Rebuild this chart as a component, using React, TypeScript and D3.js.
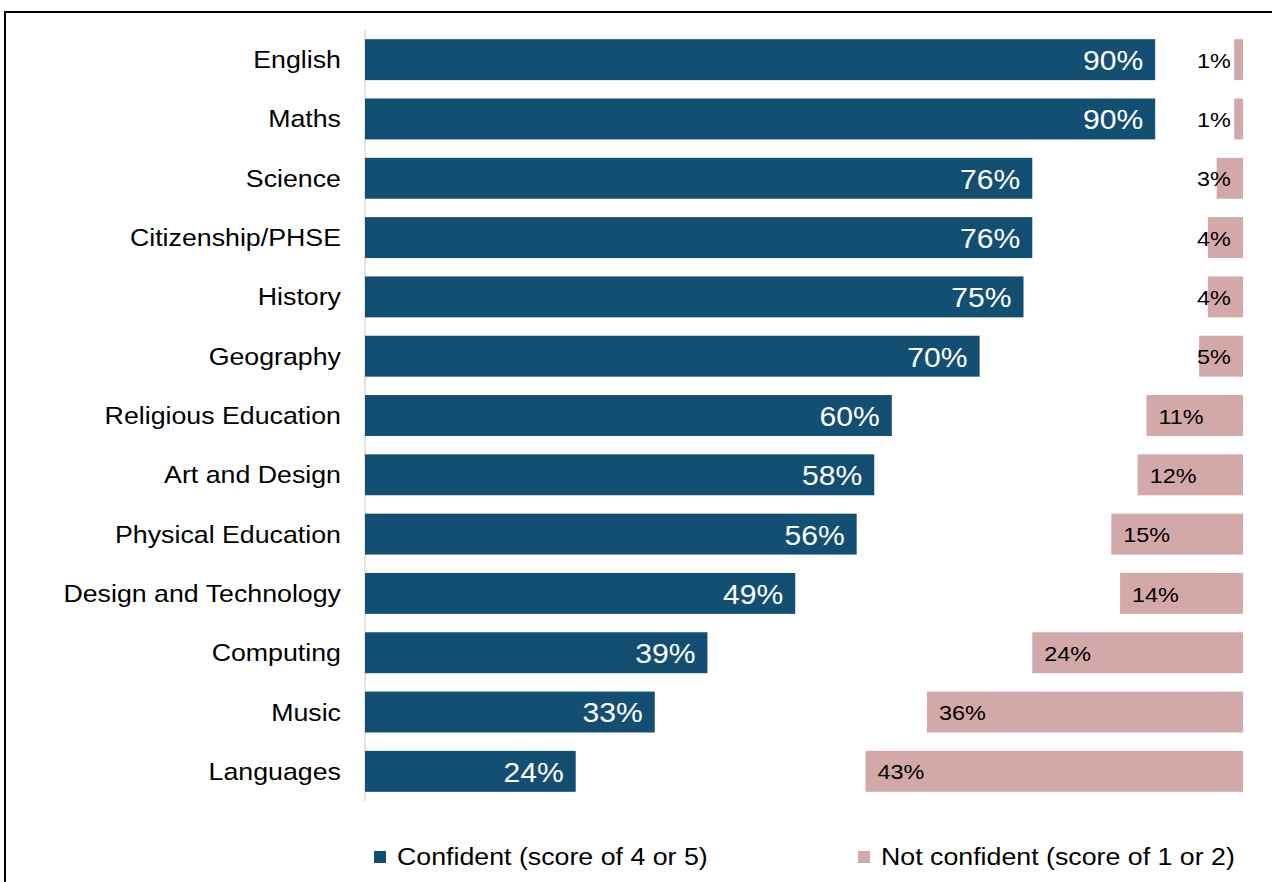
import React from "react";
import * as d3 from "d3";

const subjects = [
  "English", "Maths", "Science", "Citizenship/PHSE", "History", "Geography",
  "Religious Education", "Art and Design", "Physical Education",
  "Design and Technology", "Computing", "Music", "Languages",
];
const confident = [90, 90, 76, 76, 75, 70, 60, 58, 56, 49, 39, 33, 24];
const notConfident = [1, 1, 3, 4, 4, 5, 11, 12, 15, 14, 24, 36, 43];
const legendLabels = ["Confident (score of 4 or 5)", "Not confident (score of 1 or 2)"];
const colors = ["#124f72", "#d3a8a8"];

const W = 1272, H = 882;
const FONT = "Liberation Sans, Arial, sans-serif";
const SX = 1.115;

function T(props: { x: number; y: number; anchor?: string; size: number; fill: string; children: React.ReactNode }) {
  return (
    <text
      transform={`translate(${props.x},${props.y}) scale(${SX},1)`}
      textAnchor={props.anchor || "start"}
      dominantBaseline="central"
      fontSize={props.size}
      fill={props.fill}
    >
      {props.children}
    </text>
  );
}

export default function App() {
  const x = d3.scaleLinear().domain([0, 100]).range([365, 1243]);
  const y = d3.scaleBand<string>().domain(subjects).range([30, 801]).paddingInner(0.31).paddingOuter(0.155);
  const bw = y.bandwidth();
  return (
    <svg width={W} height={H} style={{ position: "absolute", left: 0, top: 0, background: "#fff" }} fontFamily={FONT}>
      <rect x={5} y={12} width={W + 10} height={H + 10} fill="#fff" stroke="#000" strokeWidth={2} />
      <line x1={x(0)} x2={x(0)} y1={30} y2={801} stroke="#d9d9d9" strokeWidth={1.5} />
      {subjects.map((s, i) => {
        const yy = y(s)!;
        const cy = yy + bw / 2;
        const ncStart = x(100 - notConfident[i]);
        const ncLabelX = Math.min(ncStart + 12, x(100) - 46);
        return (
          <g key={s}>
            <T x={341} y={cy} anchor="end" size={24} fill="#000">{s}</T>
            <rect x={x(0)} y={yy} width={x(confident[i]) - x(0)} height={bw} fill={colors[0]} />
            <T x={x(confident[i]) - 12} y={cy + 1} anchor="end" size={27} fill="#fff">{confident[i]}%</T>
            <rect x={ncStart} y={yy} width={x(100) - ncStart} height={bw} fill={colors[1]} />
            <T x={ncLabelX} y={cy + 1} size={21} fill="#000">{notConfident[i]}%</T>
          </g>
        );
      })}
      {legendLabels.map((l, i) => {
        const lx = i === 0 ? 374 : 858;
        return (
          <g key={l}>
            <rect x={lx} y={851} width={12} height={12} fill={colors[i]} />
            <T x={lx + 23} y={857} size={24} fill="#000">{l}</T>
          </g>
        );
      })}
    </svg>
  );
}
